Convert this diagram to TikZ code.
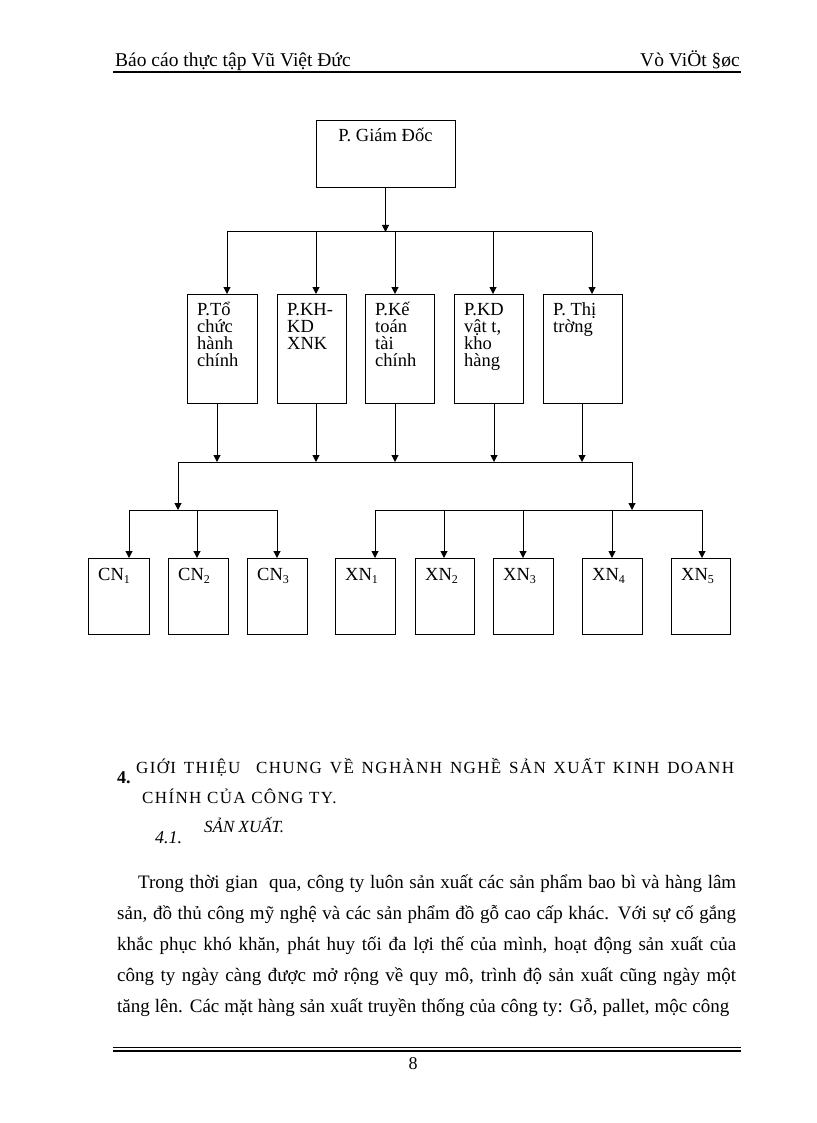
\documentclass[tikz,border=0pt]{standalone}
\usepackage{fontspec}
\setmainfont{Liberation Serif}
\newfontfamily\capsfont[LetterSpace=8]{Liberation Serif}
\usetikzlibrary{arrows.meta}
\newcommand\boxlines[1]{\parbox[t]{72pt}{\raggedright\fontsize{18.5}{17}\selectfont #1}}
\newcommand\subn[1]{\raisebox{-3.5pt}{\fontsize{12}{12}\selectfont #1}}
\begin{document}
\begin{tikzpicture}[x=1pt,y=-1pt,
  orgbox/.style={draw, line width=1pt, inner sep=0pt, outer sep=0pt, anchor=north west},
  arr/.style={line width=1pt, -{Triangle[width=7pt,length=7pt]}},
  ln/.style={line width=1pt},
  lbl/.style={inner sep=0pt, anchor=base west, font=\fontsize{18.5}{17}\selectfont},
  para/.style={inner sep=0pt, anchor=base west, font=\fontsize{19}{19}\selectfont},
]
\fill[white] (0,0) rectangle (816,1123);
\useasboundingbox (0,0) rectangle (816,1123);

% header
\node[inner sep=0pt, anchor=base west, font=\fontsize{19.5}{19.5}\selectfont] (hl) at (115,67) {Báo cáo thực tập Vũ Việt Đức};
\node[inner sep=0pt, anchor=base east, font=\fontsize{19.5}{19.5}\selectfont] (hr) at (740,67) {Vò ViÖt §øc};
\draw[line width=1.8pt] (113,72) -- (741,72);

% top box
\node[orgbox, minimum width=139pt, minimum height=67pt] (gd) at (316,121) {};
\node[lbl, anchor=base] (gdt) at ([yshift=-21pt]gd.north) {P. Giám Đốc};

% middle boxes
\node[orgbox, minimum width=70pt, minimum height=109pt] (b1) at (187,294) {};
\node[orgbox, minimum width=69pt, minimum height=109pt] (b2) at (277,294) {};
\node[orgbox, minimum width=69pt, minimum height=109pt] (b3) at (365,294) {};
\node[orgbox, minimum width=69pt, minimum height=109pt] (b4) at (454,294) {};
\node[orgbox, minimum width=79pt, minimum height=109pt] (b5) at (543,294) {};
\node[lbl] (t1) at ([xshift=10pt,yshift=-21pt]b1.north west) {\boxlines{P.Tổ\\chức\\hành\\chính}};
\node[lbl] (t2) at ([xshift=10pt,yshift=-21pt]b2.north west) {\boxlines{P.KH-\\KD\\XNK}};
\node[lbl] (t3) at ([xshift=10pt,yshift=-21pt]b3.north west) {\boxlines{P.Kế\\toán\\tài\\chính}};
\node[lbl] (t4) at ([xshift=10pt,yshift=-21pt]b4.north west) {\boxlines{P.KD\\vật t,\\kho\\hàng}};
\node[lbl] (t5) at ([xshift=10pt,yshift=-21pt]b5.north west) {\boxlines{P. Thị\\trờng}};

% bottom boxes
\node[orgbox, minimum width=61pt, minimum height=76pt] (c1) at (88,558) {};
\node[orgbox, minimum width=60pt, minimum height=76pt] (c2) at (168,558) {};
\node[orgbox, minimum width=60pt, minimum height=76pt] (c3) at (247,558) {};
\node[orgbox, minimum width=60pt, minimum height=76pt] (x1) at (335,558) {};
\node[orgbox, minimum width=59pt, minimum height=76pt] (x2) at (415,558) {};
\node[orgbox, minimum width=60pt, minimum height=76pt] (x3) at (493,558) {};
\node[orgbox, minimum width=60pt, minimum height=76pt] (x4) at (582,558) {};
\node[orgbox, minimum width=59pt, minimum height=76pt] (x5) at (671,558) {};
\foreach \n/\t in {c1/CN\subn{1},c2/CN\subn{2},c3/CN\subn{3},x1/XN\subn{1},x2/XN\subn{2},x3/XN\subn{3},x4/XN\subn{4},x5/XN\subn{5}}
  \node[lbl] (\n t) at ([xshift=10pt,yshift=-22pt]\n.north west) {\t};

% connectors: level 1
\coordinate (j0) at (385.5,232);
\draw[arr] (gd.south) -- (j0);
\coordinate (u1) at (227,232);
\coordinate (u2) at (316,232);
\coordinate (u3) at (395,232);
\coordinate (u4) at (493,232);
\coordinate (u5) at (592,232);
\draw[ln] (u1) -- (u5);
\foreach \i in {1,...,5} \draw[arr] (u\i) -- (u\i |- b\i.north);

% level 2 bus
\coordinate (v1) at (217,462);
\coordinate (v2) at (316,462);
\coordinate (v3) at (395,462);
\coordinate (v4) at (494,462);
\coordinate (v5) at (582,462);
\coordinate (vL) at (178,462);
\coordinate (vR) at (632,462);
\draw[ln] (vL) -- (vR);
\foreach \i in {1,...,5} \draw[arr] (v\i |- b\i.south) -- (v\i);

% CN group
\coordinate (wc) at (178,510);
\draw[arr] (vL) -- (wc);
\coordinate (wc1) at (129,510);
\coordinate (wc2) at (197,510);
\coordinate (wc3) at (277,510);
\draw[ln] (wc1) -- (wc3);
\foreach \i in {1,2,3} \draw[arr] (wc\i) -- (wc\i |- c\i.north);

% XN group
\coordinate (wx) at (632,510);
\draw[arr] (vR) -- (wx);
\coordinate (wx1) at (375,510);
\coordinate (wx2) at (444,510);
\coordinate (wx3) at (523,510);
\coordinate (wx4) at (612,510);
\coordinate (wx5) at (702,510);
\draw[ln] (wx1) -- (wx5);
\foreach \i in {1,...,5} \draw[arr] (wx\i) -- (wx\i |- x\i.north);

% heading
\node[inner sep=0pt, anchor=base west, font=\bfseries\fontsize{18}{18}\selectfont] (h4) at (117,783) {4.};
\node[inner sep=0pt, anchor=base west, font=\capsfont\fontsize{17}{17}\selectfont] (h1) at (136,773) {\makebox[598pt][s]{GIỚI THIỆU \ CHUNG VỀ NGHÀNH NGHỀ SẢN XUẤT KINH DOANH}};
\node[inner sep=0pt, anchor=base west, font=\capsfont\fontsize{17}{17}\selectfont] (h2) at (142,803) {CHÍNH CỦA CÔNG TY.};
\node[inner sep=0pt, anchor=base west, font=\itshape\fontsize{18}{18}\selectfont] (h41) at (155,843) {4.1.};
\node[inner sep=0pt, anchor=base west, font=\itshape\fontsize{17}{17}\selectfont] (hsx) at (204,832) {SẢN XUẤT.};

% paragraph
\node[para] (p1) at (138,888) {\makebox[598pt][s]{Trong thời gian \ qua, công ty luôn sản xuất các sản phẩm bao bì và hàng lâm}};
\node[para] (p2) at (117,919) {\makebox[619pt][s]{sản, đồ thủ công mỹ nghệ và các sản phẩm đồ gỗ cao cấp khác. Với sự cố gắng}};
\node[para] (p3) at (117,950) {\makebox[619pt][s]{khắc phục khó khăn, phát huy tối đa lợi thế của mình, hoạt động sản xuất của}};
\node[para] (p4) at (117,981) {\makebox[619pt][s]{công ty ngày càng được mở rộng về quy mô, trình độ sản xuất cũng ngày một}};
\node[para] (p5) at (117,1012) {\makebox[612pt][s]{tăng lên. Các mặt hàng sản xuất truyền thống của công ty: Gỗ, pallet, mộc công}};

% footer
\draw[line width=0.8pt] (113,1047) -- (741,1047);
\draw[line width=1.6pt] (113,1051) -- (741,1051);
\node[inner sep=0pt, anchor=base, font=\fontsize{18}{18}\selectfont] (pg) at (413,1069) {8};
\end{tikzpicture}
\end{document}
